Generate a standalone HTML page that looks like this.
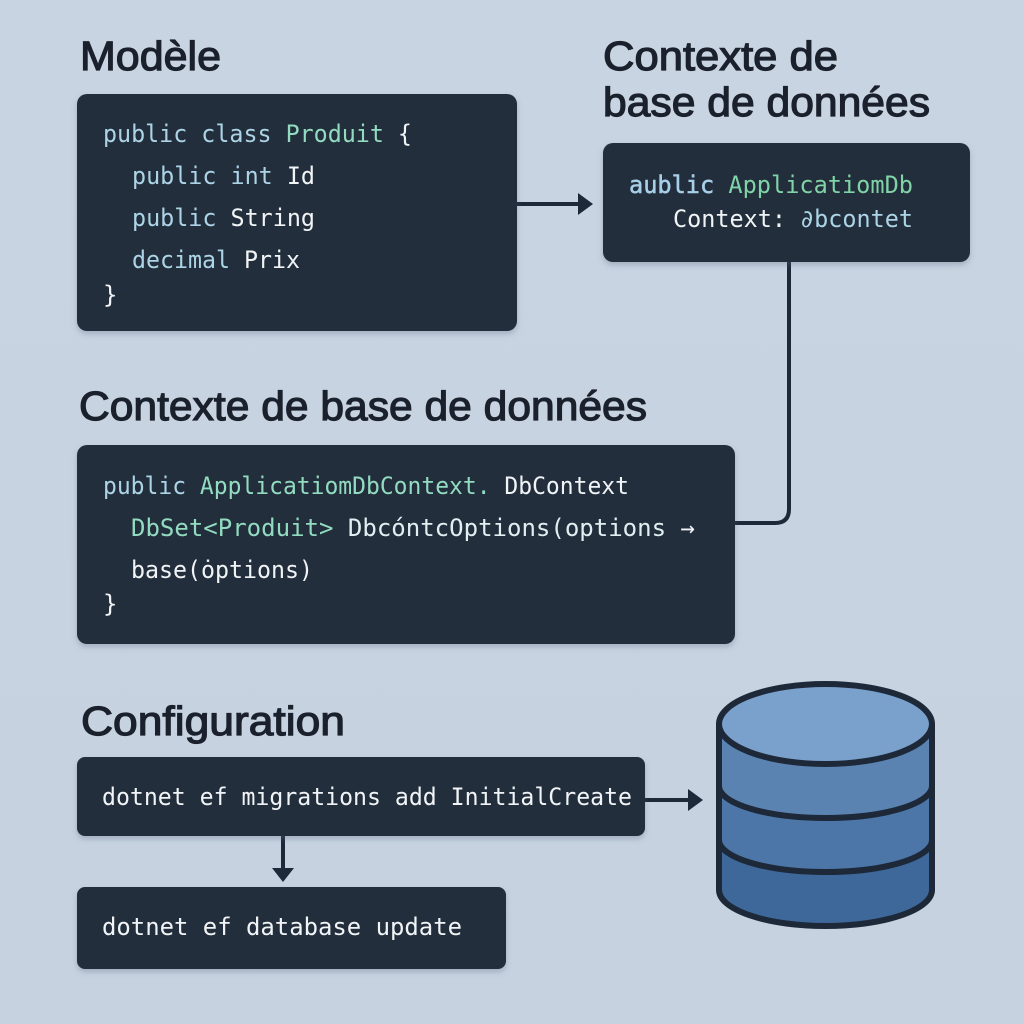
<!DOCTYPE html>
<html>
<head>
<meta charset="utf-8">
<style>
html,body{margin:0;padding:0;width:1024px;height:1024px;overflow:hidden;background:#c9d4e2;}
svg{display:block;}
.h{font-family:"Liberation Sans",sans-serif;font-size:41px;fill:#1a202c;stroke:#1a202c;stroke-width:1.2px;}
.c{font-family:"DejaVu Sans Mono","Liberation Mono",monospace;font-size:24px;fill:#eef2f5;}
.k{fill:#acd4e6;}
.t{fill:#92dbc0;}
.w{fill:#f1f4f7;}
</style>
</head>
<body>
<svg width="1024" height="1024" viewBox="0 0 1024 1024" xmlns="http://www.w3.org/2000/svg">
<defs>
  <linearGradient id="bg" x1="0" y1="0" x2="0" y2="1">
    <stop offset="0" stop-color="#c9d4e2"/>
    <stop offset="1" stop-color="#c6d2e0"/>
  </linearGradient>
  <filter id="sh" x="-10%" y="-10%" width="120%" height="130%">
    <feDropShadow dx="0" dy="3" stdDeviation="3" flood-color="#5a6b80" flood-opacity="0.35"/>
  </filter>
</defs>
<rect x="0" y="0" width="1024" height="1024" fill="url(#bg)"/>

<!-- Headings -->
<text class="h" x="80" y="70" textLength="141" lengthAdjust="spacingAndGlyphs">Modèle</text>
<text class="h" x="603" y="70" textLength="235" lengthAdjust="spacingAndGlyphs">Contexte de</text>
<text class="h" x="603" y="116" textLength="327" lengthAdjust="spacingAndGlyphs">base de données</text>
<text class="h" x="79" y="420" textLength="568" lengthAdjust="spacingAndGlyphs">Contexte de base de données</text>
<text class="h" x="81" y="735" textLength="264" lengthAdjust="spacingAndGlyphs">Configuration</text>

<!-- Connectors -->
<g stroke="#1d2838" stroke-width="4" fill="none">
  <line x1="517" y1="204" x2="582" y2="204"/>
  <path d="M789,262 V509 Q789,523 775,523 H735"/>
  <line x1="645" y1="800" x2="692" y2="800"/>
  <line x1="283" y1="836" x2="283" y2="872"/>
</g>
<g fill="#1d2838">
  <polygon points="578,193 593,204 578,215"/>
  <polygon points="688,789 703,800 688,811"/>
  <polygon points="272,868 283,882 294,868"/>
</g>

<!-- Box 1: Modele -->
<rect x="77" y="94" width="440" height="237" rx="10" fill="#222d3b" filter="url(#sh)"/>
<text class="c" x="103" y="142" textLength="309" lengthAdjust="spacingAndGlyphs"><tspan class="k">public class </tspan><tspan class="t">Produit</tspan><tspan class="w"> {</tspan></text>
<text class="c" x="132" y="184" textLength="183" lengthAdjust="spacingAndGlyphs"><tspan class="k">public int </tspan><tspan class="w">Id</tspan></text>
<text class="c" x="132" y="226" textLength="183" lengthAdjust="spacingAndGlyphs"><tspan class="k">public </tspan><tspan class="w">String</tspan></text>
<text class="c" x="132" y="268" textLength="168" lengthAdjust="spacingAndGlyphs"><tspan class="k">decimal </tspan><tspan class="w">Prix</tspan></text>
<text class="c" x="103" y="303"><tspan class="w">}</tspan></text>

<!-- Box 2: Contexte (top right) -->
<rect x="603" y="143" width="367" height="119" rx="10" fill="#222d3b" filter="url(#sh)"/>
<text class="c" x="629" y="193" textLength="284" lengthAdjust="spacingAndGlyphs"><tspan fill="#a8cfe8" stroke="#a8cfe8" stroke-width="0.5">aublic </tspan><tspan fill="#80d3a6">ApplicatiomDb</tspan></text>
<text class="c" x="673" y="227" textLength="240" lengthAdjust="spacingAndGlyphs"><tspan class="w">Context: </tspan><tspan class="k">∂bcontet</tspan></text>

<!-- Box 3: Contexte (middle) -->
<rect x="77" y="445" width="658" height="199" rx="10" fill="#222d3b" filter="url(#sh)"/>
<text class="c" x="103" y="494" textLength="526" lengthAdjust="spacingAndGlyphs"><tspan class="k">public </tspan><tspan class="t">ApplicatiomDbContext.</tspan><tspan class="w"> DbContext</tspan></text>
<text class="c" x="131" y="536" textLength="564" lengthAdjust="spacingAndGlyphs"><tspan class="t">DbSet&lt;Produit&gt; </tspan><tspan fill="#dff0f2">DbcóntcOptions(options </tspan><tspan class="w">→</tspan></text>
<text class="c" x="131" y="578" textLength="182" lengthAdjust="spacingAndGlyphs"><tspan class="w">base(ȯptions)</tspan></text>
<text class="c" x="103" y="612"><tspan class="w">}</tspan></text>

<!-- Config boxes -->
<rect x="77" y="757" width="568" height="79" rx="8" fill="#222d3b" filter="url(#sh)"/>
<text class="c" x="102" y="805" textLength="530" lengthAdjust="spacingAndGlyphs"><tspan class="w">dotnet ef migrations add InitialCreate</tspan></text>
<rect x="77" y="887" width="429" height="82" rx="8" fill="#222d3b" filter="url(#sh)"/>
<text class="c" x="102" y="935" textLength="360" lengthAdjust="spacingAndGlyphs"><tspan class="w">dotnet ef database update</tspan></text>

<!-- Database cylinder -->
<g stroke="#1d2838" stroke-width="6" stroke-linejoin="round">
  <path d="M719,724 L719,890 A106.5,36 0 0 0 932,890 L932,724 Z" fill="#3e6899" stroke="none"/>
  <path d="M719,724 L719,840 A106.5,32 0 0 0 932,840 L932,724 Z" fill="#4c76a7" stroke="none"/>
  <path d="M719,724 L719,786 A106.5,32 0 0 0 932,786 L932,724 Z" fill="#5b83b2" stroke="none"/>
  <path d="M719,786 A106.5,32 0 0 0 932,786" fill="none"/>
  <path d="M719,840 A106.5,32 0 0 0 932,840" fill="none"/>
  <path d="M719,724 L719,890 A106.5,36 0 0 0 932,890 L932,724" fill="none"/>
  <ellipse cx="825.5" cy="724" rx="106.5" ry="40" fill="#7aa0cc"/>
</g>
</svg>
</body>
</html>
